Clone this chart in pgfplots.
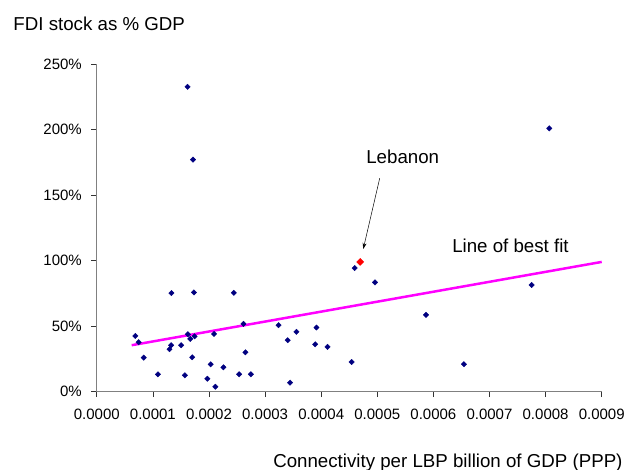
\documentclass[border=0pt]{standalone}
\usepackage{fontspec}
\setmainfont{Liberation Sans}
\usepackage{pgfplots}
\usepackage{pgfplotstable}
\pgfplotsset{compat=1.18}
\usetikzlibrary{arrows.meta}
\definecolor{navy}{RGB}{0,0,128}
\definecolor{fitpink}{RGB}{255,0,255}

% connectivity (per LBP bn GDP, PPP) vs FDI stock (% GDP)
\pgfplotstableread{
x y
0.0000687 42.6
0.0000746 37.8
0.0000836 26.0
0.0001090 13.3
0.0001330 75.3
0.0001296 32.4
0.0001325 35.5
0.0001504 35.5
0.0001570 12.5
0.0001624 43.9
0.0001666 40.3
0.0001743 42.3
0.0001701 26.3
0.0001731 75.8
0.0001618 232.8
0.0001714 177.2
0.0001970 9.9
0.0002030 20.9
0.0002090 44.1
0.0002113 3.8
0.0002257 18.6
0.0002442 75.5
0.0002537 13.3
0.0002615 51.8
0.0002650 30.1
0.0002746 13.3
0.0003240 50.8
0.0003403 39.3
0.0003445 6.9
0.0003558 45.7
0.0003893 36.2
0.0003916 49.0
0.0004113 34.2
0.0004543 22.7
0.0004597 94.4
0.0004959 83.5
0.0005868 58.7
0.0006545 21.0
0.0007752 81.5
0.0008066 201.1
}\countries

\newcommand{\labelfont}{\fontsize{18.7bp}{22bp}\selectfont}

\begin{document}
\begin{tikzpicture}
\useasboundingbox (-96.8bp,-78.3bp) rectangle (532.2bp,391.7bp);
\begin{axis}[
  scale only axis, width=504.9bp, height=327.4bp,
  xmin=0, xmax=0.0009, ymin=0, ymax=250,
  axis x line=bottom, axis y line=left,
  axis line style={-, draw=gray, line width=0.8bp},
  tick align=outside, major tick length=5.5bp,
  tick style={black!80, line width=0.7bp},
  scaled x ticks=false,
  xtick={0,0.0001,0.0002,0.0003,0.0004,0.0005,0.0006,0.0007,0.0008,0.0009},
  xticklabels={0.0000,0.0001,0.0002,0.0003,0.0004,0.0005,0.0006,0.0007,0.0008,0.0009},
  ytick={0,50,100,150,200,250},
  yticklabels={0\%,50\%,100\%,150\%,200\%,250\%},
  ticklabel style={font=\fontsize{15bp}{18bp}\selectfont},
  xticklabel style={yshift=-8bp},
  yticklabel style={xshift=-6bp},
  clip=false,
]
\addplot[only marks, mark=square*, mark size=1.9bp, mark options={rotate=45, fill=navy, draw=navy}]
  table[x=x, y=y] {\countries};
\addplot[fitpink, line width=2.5bp] coordinates {(0.0000622,35.5) (0.0009,99.1)};
\addplot[only marks, mark=square*, mark size=2.5bp, mark options={rotate=45, fill=red, draw=red}]
  coordinates {(0.0004695,99.1)};
\node[anchor=base, font=\labelfont] at (axis cs:0.0005453,173.9) {Lebanon};
\draw[line width=0.5bp, -{Stealth[length=6bp, width=4bp]}] (axis cs:0.0005043,163) -- (axis cs:0.000475,109);
\node[anchor=base, font=\labelfont] at (axis cs:0.0007374,106.1) {Line of best fit};
\end{axis}
\node[anchor=base west, inner sep=0pt, font=\labelfont] at (-83.5bp,361bp) {FDI stock as \% GDP};
\node[anchor=base east, inner sep=0pt, font=\labelfont] at (525.9bp,-75.6bp) {Connectivity per LBP billion of GDP (PPP)};
\end{tikzpicture}
\end{document}
